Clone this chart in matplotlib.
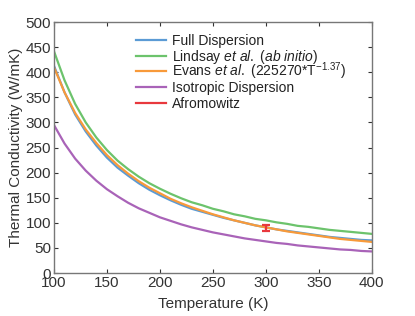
import numpy as np
import matplotlib
matplotlib.use("Agg")
import matplotlib.pyplot as plt

#%% Data

temperature = np.arange(100, 401, 10)

full_dispersion = [413, 360, 316, 282, 254, 230, 210, 194, 179, 166, 155, 145, 136,
                   128, 122, 116, 110, 105, 100, 95, 91, 87, 84, 81, 78, 75, 72, 70,
                   68, 66, 65]
lindsay = [442, 384, 337, 300, 270, 245, 224, 207, 192, 179, 168, 158, 149, 141,
           135, 128, 123, 117, 113, 108, 105, 101, 98, 94, 92, 89, 86, 84, 82, 80, 78]
evans = [410, 360, 319, 286, 259, 235, 215, 198, 183, 170, 159, 148, 139, 131, 124,
         117, 111, 105, 100, 95, 91, 87, 83, 80, 77, 74, 71, 68, 66, 64, 62]
isotropic = [295, 258, 228, 204, 184, 167, 153, 140, 129, 120, 111, 104, 97, 91, 86,
             81, 77, 73, 69, 66, 63, 60, 58, 55, 53, 51, 49, 47, 46, 44, 43]

afromowitz_t = [300]
afromowitz_k = [90]
afromowitz_err = [6.5]

labels = ['Full Dispersion',
          r'Lindsay $\mathit{et\ al.}$ $\mathit{(ab\ initio)}$',
          r'Evans $\mathit{et\ al.}$ (225270*T$^{-1.37}$)',
          'Isotropic Dispersion',
          'Afromowitz']
colors = ['#5b9bd5', '#6cc36c', '#f89a3a', '#a963b8', '#e8383d']

#%% Style

plt.rcParams['font.family'] = ['Liberation Sans', 'DejaVu Sans']
plt.rcParams['mathtext.fontset'] = 'custom'
plt.rcParams['mathtext.rm'] = 'Liberation Sans'
plt.rcParams['mathtext.it'] = 'Liberation Sans:italic'

fig = plt.figure(figsize=(4.15, 3.16), dpi=100)
ax = fig.add_axes([0.130, 0.136, 0.766, 0.794])

lw = 1.6
for series, c in zip([full_dispersion, lindsay, evans, isotropic], colors[:4]):
    ax.plot(temperature, series, color=c, lw=lw)
ax.errorbar(afromowitz_t, afromowitz_k, yerr=afromowitz_err, color=colors[4],
            lw=lw, capsize=3.2, capthick=lw, fmt='none')

ax.set_xlim(100, 400)
ax.set_ylim(0, 500)
ax.set_xticks(np.arange(100, 401, 50))
ax.set_yticks(np.arange(0, 501, 50))

ax.tick_params(direction='in', top=True, right=True, length=3, width=0.8,
               labelsize=11, colors='#333333', pad=2)
for s in ax.spines.values():
    s.set_color('#777777')
    s.set_linewidth(1.0)

ax.set_xlabel('Temperature (K)', fontsize=11, color='#333333', labelpad=5)
ax.set_ylabel('Thermal Conductivity (W/mK)', fontsize=11, color='#333333', labelpad=2)

# legend drawn by hand so the rows stay evenly spaced (mathtext rows are taller)
ax_h = 251.0
y0 = 0.928
dy = 15.6 / ax_h
for i, (lab, c) in enumerate(zip(labels, colors)):
    y = y0 - i * dy
    ax.plot([0.258, 0.352], [y, y], transform=ax.transAxes, color=c, lw=lw,
            clip_on=False)
    ax.text(0.371, y - 5.0 / ax_h, lab, transform=ax.transAxes, fontsize=10,
            va='baseline', ha='left', color='#222222')

fig.savefig('out.png', dpi=100)
